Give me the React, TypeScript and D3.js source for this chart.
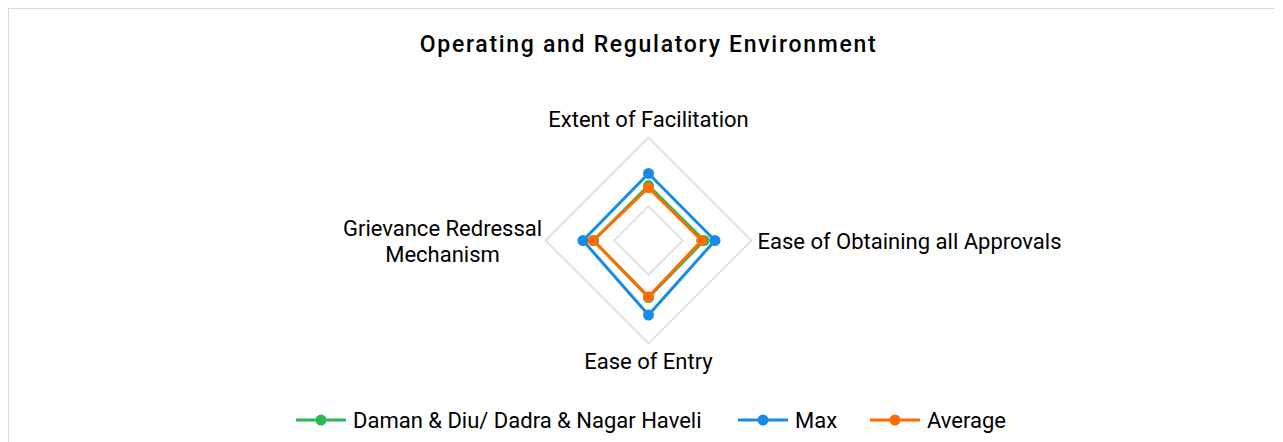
import React, { useEffect, useRef } from 'react';
import * as d3 from 'd3';

const axes = [
  ['Extent of Facilitation'],
  ['Ease of Obtaining all Approvals'],
  ['Ease of Entry'],
  ['Grievance Redressal', 'Mechanism'],
];
const seriesNames = ['Daman & Diu/ Dadra & Nagar Haveli', 'Max', 'Average'];
const damanValues = [0.8, 0.81, 0.83, 0.8];
const maxValues = [0.976, 0.968, 1.085, 0.954];
const averageValues = [0.769, 0.775, 0.818, 0.804];
const gridValues = [0.5, 1.5];
const colors = ['#2DB757', '#188CE5', '#FF6D00'];

const App = () => {
  const svgRef = useRef<SVGSVGElement>(null);

  useEffect(() => {
    const W = 1275;
    const H = 440;
    const cx = 640.5;
    const cy = 232.5;
    const font = 'Roboto, sans-serif';

    const root = d3.select(svgRef.current);
    root.selectAll('*').remove();
    root.attr('width', W).attr('height', H);

    root.append('rect')
      .attr('x', 0.5).attr('y', 0.5)
      .attr('width', W - 1).attr('height', H + 10)
      .attr('fill', 'white').attr('stroke', '#d9d9d9');

    root.append('text')
      .attr('x', cx).attr('y', 44)
      .attr('text-anchor', 'middle')
      .attr('font-family', font)
      .attr('font-size', 23)
      .attr('font-weight', 500)
      .attr('letter-spacing', 1.7)
      .attr('fill', '#000')
      .text('Operating and Regulatory Environment');

    const r = d3.scaleLinear().domain([0, 1.5]).range([0, 103]);
    const angle = d3.scalePoint<number>()
      .domain(d3.range(axes.length + 1))
      .range([0, 2 * Math.PI]);

    const g = root.append('g').attr('transform', `translate(${cx},${cy})`);

    const radial = d3.lineRadial<number>()
      .angle((_, i) => angle(i) as number)
      .radius(d => r(d))
      .curve(d3.curveLinearClosed);

    gridValues.forEach(v => {
      g.append('path')
        .attr('d', radial(axes.map(() => v)))
        .attr('fill', 'none')
        .attr('stroke', '#d9d9d9')
        .attr('stroke-width', 1.5);
    });

    const allSeries = [damanValues, maxValues, averageValues];
    allSeries.forEach((vals, si) => {
      g.append('path')
        .attr('d', radial(vals))
        .attr('fill', 'none')
        .attr('stroke', colors[si])
        .attr('stroke-width', 3)
        .attr('stroke-linejoin', 'round');
      g.selectAll(`circle.s${si}`)
        .data(vals)
        .enter()
        .append('circle')
        .attr('cx', (d, i) => r(d) * Math.sin(angle(i) as number))
        .attr('cy', (d, i) => -r(d) * Math.cos(angle(i) as number))
        .attr('r', 5.5)
        .attr('fill', colors[si]);
    });

    // axis labels
    const labelPos = [
      { x: 0, y: -114, anchor: 'middle' },
      { x: 109, y: 8, anchor: 'start' },
      { x: 0, y: 128, anchor: 'middle' },
      { x: -206, y: 3, anchor: 'middle' },
    ];
    axes.forEach((lines, i) => {
      const t = g.append('text')
        .attr('x', labelPos[i].x)
        .attr('y', lines.length > 1 ? labelPos[i].y - 8 : labelPos[i].y)
        .attr('text-anchor', labelPos[i].anchor)
        .attr('font-family', font)
        .attr('font-size', 22)
        .attr('fill', '#000');
      lines.forEach((l, li) => {
        t.append('tspan')
          .attr('x', labelPos[i].x)
          .attr('dy', li === 0 ? 0 : 26)
          .text(l);
      });
    });

    // legend
    const legendX = [288, 730, 862];
    const legend = root.append('g').attr('transform', 'translate(0,412)');
    seriesNames.forEach((name, i) => {
      const lg = legend.append('g').attr('transform', `translate(${legendX[i]},0)`);
      lg.append('line')
        .attr('x1', 0).attr('x2', 50)
        .attr('stroke', colors[i]).attr('stroke-width', 3);
      lg.append('circle').attr('cx', 25).attr('r', 5.5).attr('fill', colors[i]);
      lg.append('text')
        .attr('x', 57).attr('y', 7.5)
        .attr('font-family', font)
        .attr('font-size', 22)
        .attr('fill', '#000')
        .text(name);
    });
  }, []);

  return <svg ref={svgRef}></svg>;
};

export default App;
